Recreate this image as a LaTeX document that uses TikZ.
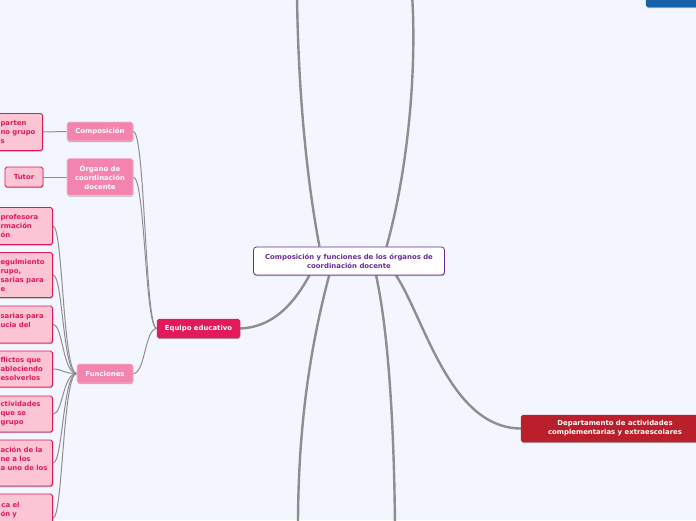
\documentclass[tikz,border=0pt]{standalone}
\usepackage{fontspec}
\newfontfamily\mmfont{DejaVu Sans}
\usetikzlibrary{shadows,backgrounds}
\definecolor{bg}{HTML}{F3F6FE}
\definecolor{leaffill}{HTML}{FCC5D4}
\definecolor{leafline}{HTML}{E2195B}
\definecolor{midfill}{HTML}{F384AD}
\definecolor{eqfill}{HTML}{E2195B}
\definecolor{depfill}{HTML}{B9202C}
\definecolor{bluefill}{HTML}{1560A9}
\definecolor{purp}{HTML}{6A2D93}
\definecolor{conn}{HTML}{8E8E8E}
\newlength\fragw
% #1 = right edge of box, #2 = text, #3 = wanted right end of text
\newcommand{\pd}[3]{\settowidth{\fragw}{#2}%
  \ifdim\fragw>\dimexpr#3pt-1pt\relax\fragw=\dimexpr#1pt-1pt-\fragw\relax\else\fragw=\dimexpr#1pt-#3pt\relax\fi
  #2\rule{\fragw}{0pt}}
\tikzset{
  base/.style={rounded corners=1.8pt, font=\mmfont\bfseries\fontsize{6.9}{9}\selectfont, inner sep=0pt,
    drop shadow={shadow xshift=0.4pt, shadow yshift=-1.1pt, opacity=0.3, fill=black}},
  leafbase/.style={base, draw=leafline, line width=0.9pt, fill=leaffill, text=leafline},
  leaf/.style={leafbase, text width=150pt, align=right, anchor=east},
  mid/.style={base, draw=white!45!midfill, line width=0.6pt, fill=midfill, text=white, align=center},
  eqnode/.style={base, draw=eqfill, fill=eqfill, text=white, align=center},
  depnode/.style={base, draw=depfill, fill=depfill, text=white, align=center},
  bluenode/.style={base, draw=bluefill, fill=bluefill},
  central/.style={base, rounded corners=3pt, draw=purp, line width=0.8pt, fill=white, text=purp, align=center},
  thinc/.style={draw=conn, line width=1pt},
  thickc/.style={draw=conn, line width=2.4pt}
}
\begin{document}
\begin{tikzpicture}[x=1pt,y=-1pt]
\useasboundingbox (0,0) rectangle (696,520);
\clip (0,0) rectangle (696,520);
% nodes
\node[central, minimum width=191pt, minimum height=28pt] (c) at (349,261) {Composición y funciones de los órganos de\\coordinación docente};
\node[eqnode, minimum width=83pt, minimum height=19pt] (eq) at (198.5,328.5) {Equipo educativo};
\node[mid, minimum width=66pt, minimum height=19pt] (comp) at (100,131.5) {Composición};
\node[mid, minimum width=66pt, minimum height=37pt] (org) at (100,177) {Órgano de\\coordinación\\docente};
\node[mid, minimum width=56pt, minimum height=19pt] (fun) at (105,373.5) {Funciones};
\node[depnode, minimum width=188pt, minimum height=27pt] (dep) at (615,428.5) {Departamento de actividades\\complementarias y extraescolares};
\node[bluenode, minimum width=88pt, minimum height=34pt] (topblue) at (690,-10) {};
\node[leaf, minimum height=37pt] (p1) at (43,132) {\pd{43}{parten}{26}\\\pd{43}{no grupo}{35}\\\pd{43}{s}{4}};
\node[leafbase, minimum width=38pt, minimum height=20pt] (tutor) at (24,177) {Tutor};
\node[leaf, minimum height=37pt] (f1) at (53,226) {\pd{53}{profesora}{37}\\\pd{53}{rmación}{32}\\\pd{53}{ón}{9}};
\node[leaf, minimum height=45pt] (f2) at (53,275) {\pd{53}{egulmiento}{43}\\\pd{53}{rupo,}{19}\\\pd{53}{sarias para}{41}\\\pd{53}{e}{3}};
\node[leaf, minimum height=37pt] (f3) at (53,324.5) {\pd{53}{sarias para}{41}\\\pd{53}{ucia del}{27}\\\phantom{a}};
\node[leaf, minimum height=36pt] (f4) at (53,369) {\pd{53}{flictos que}{39}\\\pd{53}{ableciendo}{40}\\\pd{53}{esolverlos}{36}};
\node[leaf, minimum height=36pt] (f5) at (53,414) {\pd{53}{ctividades}{41}\\\pd{53}{que se}{25}\\\pd{53}{grupo}{24}};
\node[leaf, minimum height=46pt] (f6) at (53,463) {\pd{53}{ación de la}{42}\\\pd{53}{ne a los}{29}\\\pd{53}{a uno de los}{45}\\\phantom{a}};
\node[leaf, minimum height=48pt] (f7) at (53,518) {\pd{53}{ca el}{20}\\\pd{53}{ón y}{16}\\\phantom{a}\\\phantom{a}};
\coordinate (tl) at (297,-6);
\coordinate (tr) at (412,-6);
\coordinate (bl) at (298,526);
\coordinate (br) at (395,526);
\begin{pgfonlayer}{background}
\fill[bg] (0,0) rectangle (696,520);
\draw[thickc] (c.154) .. controls (305,170) and (298,80) .. (tl);
\draw[thickc] (c.21) .. controls (408,170) and (417,70) .. (tr);
\draw[thickc] (c.216) .. controls (312,340) and (298,420) .. (bl);
\draw[thickc] (c.-28) .. controls (388,330) and (394,420) .. (br);
\draw[thickc] (c.-17) .. controls (425,320) and (450,428) .. (dep.west);
\draw[thickc] (eq.east) .. controls (280,327) and (300,292) .. (c.200);
\draw[thinc] (p1.east) -- (comp.west);
\draw[thinc] (tutor.east) -- (org.west);
\foreach \f in {f1,f2,f3,f4,f5,f6,f7}
  \draw[thinc] (\f.east) .. controls +(10,0) and +(-14,0) .. (fun.west);
\foreach \m in {comp,org,fun}
  \draw[thinc] (\m.east) .. controls +(12,0) and +(-12,0) .. (eq.west);
\end{pgfonlayer}
\end{tikzpicture}
\end{document}
